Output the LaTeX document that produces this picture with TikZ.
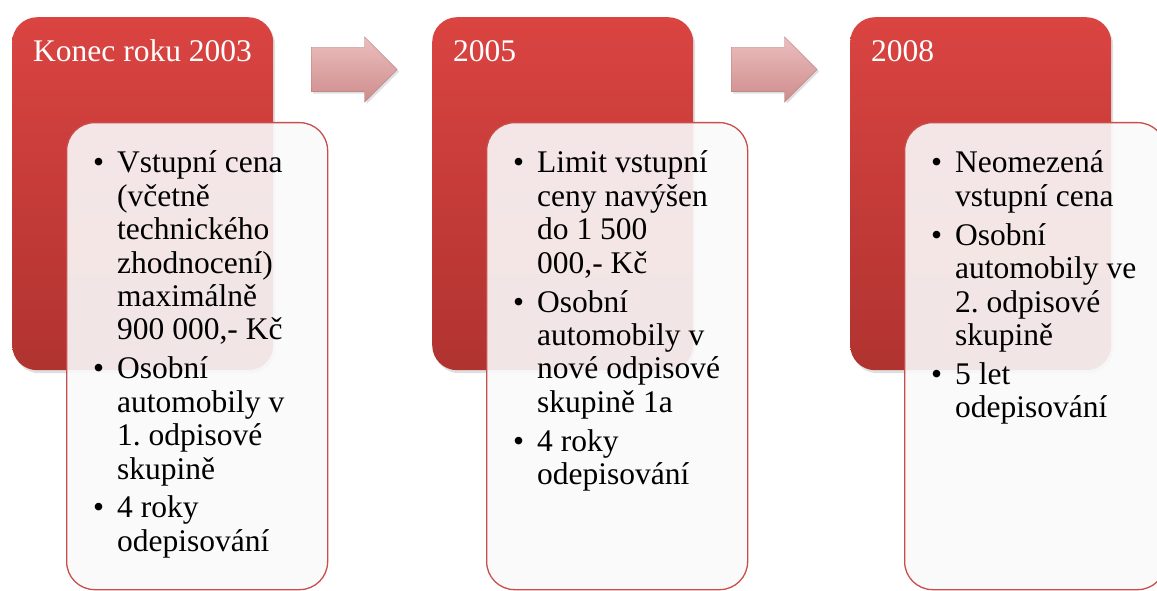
\documentclass[tikz,border=0pt]{standalone}
\usepackage{fontspec}
\setmainfont{Liberation Serif}
\usepackage{xcolor}
\usetikzlibrary{positioning}
\usetikzlibrary{shapes.arrows}
\usetikzlibrary{shadows}
\frenchspacing

\definecolor{redtop}{RGB}{218,68,65}
\definecolor{redbottom}{RGB}{176,51,48}
\definecolor{boxedge}{RGB}{200,78,76}
\definecolor{pinktop}{RGB}{236,190,190}
\definecolor{pinkbottom}{RGB}{206,140,140}

\tikzset{
  yearbox/.style={rectangle, rounded corners=25pt, top color=redtop, bottom color=redbottom, minimum width=261pt, minimum height=353pt, anchor=north west, inner sep=0pt, drop shadow={opacity=0.25, shadow xshift=2pt, shadow yshift=-3pt}},
  listbox/.style={rectangle, rounded corners=28pt, draw=boxedge, line width=1.3pt, fill=gray!5, fill opacity=0.9, minimum width=261pt, minimum height=467pt, anchor=north west, inner sep=0pt},
  yeartext/.style={text=white, anchor=base west, inner sep=0pt, font=\fontsize{31.5}{33.4}\selectfont},
  listtext/.style={anchor=base west, inner sep=0pt, font=\fontsize{31.5}{33.4}\selectfont},
  steparrow/.style={single arrow, anchor=tail, minimum height=86pt, inner xsep=0pt, inner ysep=22pt, single arrow head extend=10.5pt, top color=pinktop, bottom color=pinkbottom, draw=pinkbottom!85!black, line width=0.4pt, drop shadow={opacity=0.25, shadow xshift=2pt, shadow yshift=-2pt}}
}

\begin{document}
\begin{tikzpicture}[x=1pt,y=-1pt]

\clip (0,0) rectangle (1157,591);

% konec roku 2003
\begin{scope}[xshift=0pt]
\node[yearbox] (year1) at (12,17) {};
\node[yeartext] (title1) at (33,62) {Konec roku 2003};
\node[listbox] (list1) at (66,122) {};
\node[listtext] (items1) at (93,173) {\begin{tabular}[t]{@{}p{24pt}@{}l@{}}
\textbullet & Vstupní cena\\
 & (včetně\\
 & technického\\
 & zhodnocení)\\
 & maximálně\\
 & 900 000,- Kč\\[5.5pt]
\textbullet & Osobní\\
 & automobily v\\
 & 1. odpisové\\
 & skupině\\[5.5pt]
\textbullet & 4 roky\\
 & odepisování
\end{tabular}};
\node[steparrow] (arrow1) at (311,69.5) {};
\end{scope}

% 2005
\begin{scope}[xshift=420pt]
\node[yearbox] (year2) at (12,17) {};
\node[yeartext] (title2) at (33,62) {2005};
\node[listbox] (list2) at (66,122) {};
\node[listtext] (items2) at (93,173) {\begin{tabular}[t]{@{}p{24pt}@{}l@{}}
\textbullet & Limit vstupní\\
 & ceny navýšen\\
 & do 1 500\\
 & 000,- Kč\\[5.5pt]
\textbullet & Osobní\\
 & automobily v\\
 & nové odpisové\\
 & skupině 1a\\[5.5pt]
\textbullet & 4 roky\\
 & odepisování
\end{tabular}};
\node[steparrow] (arrow2) at (311,69.5) {};
\end{scope}

% 2008
\begin{scope}[xshift=838pt]
\node[yearbox] (year3) at (12,17) {};
\node[yeartext] (title3) at (33,62) {2008};
\node[listbox] (list3) at (66,122) {};
\node[listtext] (items3) at (93,173) {\begin{tabular}[t]{@{}p{24pt}@{}l@{}}
\textbullet & Neomezená\\
 & vstupní cena\\[5.5pt]
\textbullet & Osobní\\
 & automobily ve\\
 & 2. odpisové\\
 & skupině\\[5.5pt]
\textbullet & 5 let\\
 & odepisování
\end{tabular}};
\end{scope}

\end{tikzpicture}
\end{document}
